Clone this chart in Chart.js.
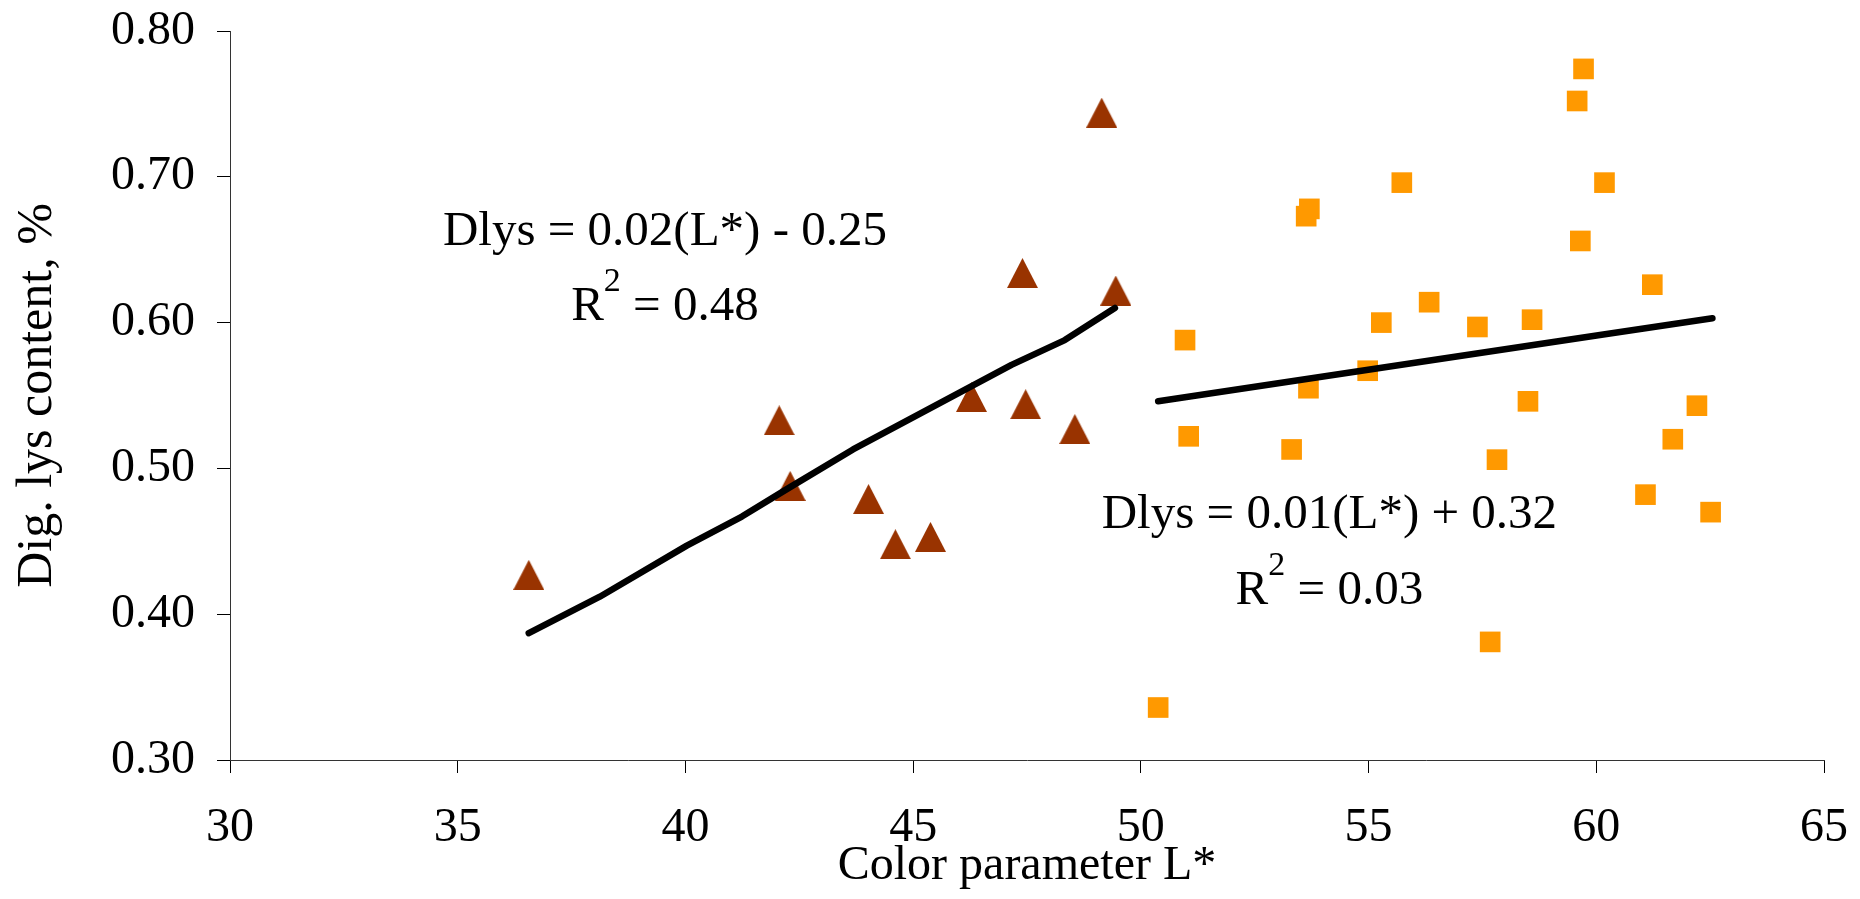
<!DOCTYPE html>
<html>
<head>
<meta charset="utf-8">
<title>Dig. lys content vs colour parameter L*</title>
<script src="https://cdn.jsdelivr.net/npm/chart.js@4.4.1/dist/chart.umd.min.js"></script>
<style>
  html, body { margin: 0; padding: 0; background: #fff; }
  #wrap { width: 1860px; height: 899px; position: relative; }
</style>
</head>
<body>
<div id="wrap"><canvas id="chart"></canvas></div>
<script>
// dark samples (triangles): L* and digestible lysine
const darkL   = [36.56, 42.06, 42.30, 44.02, 44.61, 45.38, 46.28, 47.40, 47.47, 48.55, 49.14, 49.45];
const darkLys = [0.427, 0.533, 0.488, 0.479, 0.448, 0.453, 0.549, 0.634, 0.544, 0.527, 0.744, 0.622];

// light samples (squares)
const lightL   = [50.38, 50.97, 51.05, 53.31, 53.63, 53.70, 53.68, 54.98, 55.28, 55.73, 56.33, 57.39, 57.67,
                  57.82, 58.50, 58.59, 59.58, 59.72, 59.65, 60.18, 61.08, 61.23, 61.68, 62.21, 62.51];
const lightLys = [0.336, 0.588, 0.522, 0.513, 0.673, 0.678, 0.555, 0.567, 0.600, 0.696, 0.614, 0.597, 0.381,
                  0.506, 0.546, 0.602, 0.752, 0.774, 0.656, 0.696, 0.482, 0.626, 0.520, 0.543, 0.470];

// trend lines, read at a few points along each drawn line
const fitDarkL   = [36.56, 38.12, 40.03, 41.24, 42.29, 43.68, 47.16, 48.33, 49.43];
const fitDarkLys = [0.387, 0.412, 0.447, 0.467, 0.487, 0.513, 0.571, 0.588, 0.610];
const fitLightL   = [50.38, 60.08, 62.55];
const fitLightLys = [0.546, 0.5915, 0.603];

const xTicks = [30, 35, 40, 45, 50, 55, 60, 65];
const yTicks = [0.30, 0.40, 0.50, 0.60, 0.70, 0.80];

const equations = ['Dlys = 0.02(L*) - 0.25', 'Dlys = 0.01(L*) + 0.32'];
const rSquared = ['0.48', '0.03'];

const SERIF = "'Times New Roman', 'Liberation Serif', serif";
Chart.defaults.font.family = SERIF;
Chart.defaults.color = '#000';

const pairs = (xs, ys) => xs.map((v, i) => ({ x: v, y: ys[i] }));

// Excel-like triangle marker (a bit taller than equilateral)
function triangleMarker(w, h, color) {
  const c = document.createElement('canvas');
  c.width = w;
  c.height = h;
  const g = c.getContext('2d');
  g.fillStyle = color;
  g.beginPath();
  g.moveTo(w / 2, 0);
  g.lineTo(w, h);
  g.lineTo(0, h);
  g.closePath();
  g.fill();
  return c;
}

// regression equations drawn as text at data positions
const equationLabels = {
  id: 'equationLabels',
  afterDatasetsDraw(chart) {
    const { ctx, scales: { x, y } } = chart;
    const big = '49px ' + SERIF;
    const small = '34px ' + SERIF;
    const spots = [[39.55, 0.653, 0.602], [54.14, 0.459, 0.407]];
    ctx.save();
    ctx.fillStyle = '#000';
    ctx.textBaseline = 'alphabetic';
    spots.forEach(([lx, y1, y2], i) => {
      const cx = x.getPixelForValue(lx);
      ctx.font = big;
      ctx.textAlign = 'center';
      ctx.fillText(equations[i], cx, y.getPixelForValue(y1));

      const rest = ' = ' + rSquared[i];
      const wR = ctx.measureText('R').width;
      const wRest = ctx.measureText(rest).width;
      ctx.font = small;
      const w2 = ctx.measureText('2').width;
      const left = cx - (wR + w2 + wRest) / 2;
      const base = y.getPixelForValue(y2);
      ctx.textAlign = 'left';
      ctx.font = big;
      ctx.fillText('R', left, base);
      ctx.font = small;
      ctx.fillText('2', left + wR, base - 29);
      ctx.font = big;
      ctx.fillText(rest, left + wR + w2, base);
    });
    ctx.restore();
  }
};

const lineStyle = {
  showLine: true,
  borderColor: '#000',
  borderWidth: 6.5,
  borderCapStyle: 'round',
  borderJoinStyle: 'round',
  pointRadius: 0,
  pointHoverRadius: 0,
  tension: 0
};

// keep the plot box where the reference has it (labels may overhang)
const noOverhang = (s) => {
  s.paddingTop = 0;
  s.paddingBottom = 0;
  s.paddingLeft = 0;
  s.paddingRight = 0;
};

new Chart(document.getElementById('chart'), {
  type: 'scatter',
  data: {
    datasets: [
      { label: 'fit dark', data: pairs(fitDarkL, fitDarkLys), ...lineStyle },
      { label: 'fit light', data: pairs(fitLightL, fitLightLys), ...lineStyle },
      {
        label: 'dark',
        data: pairs(darkL, darkLys),
        pointStyle: triangleMarker(31, 30, '#993300'),
        pointRadius: 15,
        backgroundColor: '#993300',
        borderWidth: 0
      },
      {
        label: 'light',
        data: pairs(lightL, lightLys),
        pointStyle: 'rect',
        pointRadius: 14.6,
        backgroundColor: '#FF9900',
        borderWidth: 0
      }
    ]
  },
  options: {
    responsive: true,
    maintainAspectRatio: false,
    animation: false,
    layout: { padding: { top: 31, right: 36, left: 0, bottom: 0 } },
    plugins: {
      legend: { display: false },
      tooltip: { enabled: false }
    },
    scales: {
      x: {
        type: 'linear',
        min: 30,
        max: 65,
        afterBuildTicks: (s) => { s.ticks = xTicks.map(v => ({ value: v })); },
        afterFit: (s) => { s.height = 139; noOverhang(s); },
        ticks: {
          font: { size: 48 },
          color: '#000',
          padding: 27,
          maxRotation: 0,
          autoSkip: false,
          callback: (v) => String(v)
        },
        grid: { drawOnChartArea: false, drawTicks: true, tickLength: 13, tickColor: '#000', tickWidth: 1 },
        border: { color: '#333', width: 1 },
        title: {
          display: true,
          text: 'Color parameter L*',
          font: { size: 48 },
          color: '#000',
          padding: { top: 0, bottom: 4 }
        }
      },
      y: {
        type: 'linear',
        min: 0.3,
        max: 0.8,
        afterBuildTicks: (s) => { s.ticks = yTicks.map(v => ({ value: v })); },
        afterFit: (s) => { s.width = 230; noOverhang(s); },
        ticks: {
          font: { size: 48 },
          color: '#000',
          padding: 22,
          callback: (v) => Number(v).toFixed(2)
        },
        grid: { drawOnChartArea: false, drawTicks: true, tickLength: 13, tickColor: '#000', tickWidth: 1 },
        border: { color: '#333', width: 1 },
        title: {
          display: true,
          text: 'Dig. lys content, %',
          font: { size: 50 },
          color: '#000',
          padding: { top: 8, bottom: 0 }
        }
      }
    }
  },
  plugins: [equationLabels]
});
</script>
</body>
</html>
